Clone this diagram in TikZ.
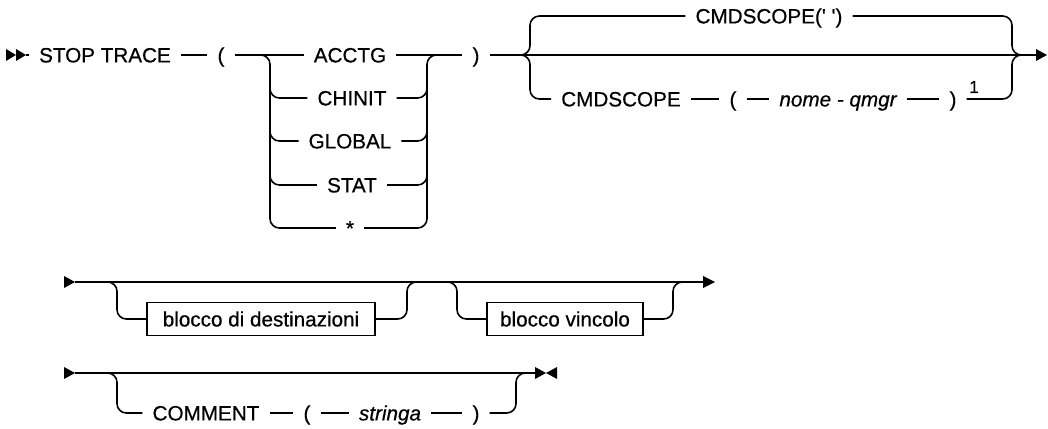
\documentclass[tikz,border=0pt]{standalone}
\usepackage{fontspec}
\setmainfont[FakeBold=0.6]{Liberation Sans}
\begin{document}
\begin{tikzpicture}[x=0.75pt,y=-0.75pt,
  line width=1.2pt,
  tok/.style={font=\fontsize{15.5}{18}\selectfont, inner xsep=7pt, inner ysep=0pt, text height=11.1pt, text depth=0pt},
  var/.style={tok, font=\fontsize{15.5}{18}\selectfont\itshape},
  refbox/.style={draw, line width=1pt, font=\fontsize{15.5}{18}\selectfont, inner ysep=0pt, text height=11.1pt, text depth=0pt, minimum height=24.75pt},
  note/.style={font=\fontsize{13}{15}\selectfont, inner sep=0pt},
  rr/.style={rounded corners=7pt},
  tipfill/.style={fill=black, draw=none}]
\useasboundingbox (0,0) rectangle (1048,428);

% ---------- row 1 ----------
\fill[tipfill] (6,49) -- (16,55) -- (6,61) -- cycle;
\fill[tipfill] (16,49) -- (26,55) -- (16,61) -- cycle;
\coordinate (start1) at (26,55);
\coordinate (end1) at (1036,55);
\fill[tipfill] (1036,49) -- (1047,55) -- (1036,61) -- cycle;

\node[tok] (stop) at (105,55) {STOP TRACE};
\node[tok] (lp) at (221,55) {(};
\node[tok] (acctg) at (350,55) {ACCTG};
\node[tok] (chinit) at (352,98) {CHINIT};
\node[tok] (global) at (350,141) {GLOBAL};
\node[tok] (stat) at (352,185) {STAT};
\node[tok] (star) at (350,228) {*};
\node[tok] (rp) at (476,55) {)};

\draw (start1) -- (stop);
\draw (stop) -- (lp);
\draw (lp) -- (acctg);
\draw (acctg) -- (rp);
\draw (rp) -- (end1);

% left bracket
\draw[rr] (256,55) -- (270,55) -- (270,228) -- (star);
\draw[rr] (270,80) -- (270,98) -- (chinit);
\draw[rr] (270,120) -- (270,141) -- (global);
\draw[rr] (270,165) -- (270,185) -- (stat);
% right bracket
\draw[rr] (star) -- (427,228) -- (427,55) -- (441,55);
\draw[rr] (chinit) -- (427,98) -- (427,80);
\draw[rr] (global) -- (427,141) -- (427,120);
\draw[rr] (stat) -- (427,185) -- (427,165);

% CMDSCOPE choice
\node[tok] (scopeq) at (769,16) {CMDSCOPE(\textquotesingle\ \textquotesingle)};
\node[tok] (scope) at (621,99) {CMDSCOPE};
\node[tok] (lp2) at (733,99) {(};
\node[var] (qmgr) at (838,99) {nome - qmgr};
\node[tok] (rp2) at (953,99) {)};
\node[note] (fn) at (974,87) {1};

\draw[rr] (512,55) -- (530,55) -- (530,16) -- (scopeq);
\draw[rr] (scopeq) -- (1012,16) -- (1012,55) -- (1028,55);
\draw[rr] (512,55) -- (530,55) -- (530,99) -- (scope);
\draw (scope) -- (lp2);
\draw (lp2) -- (qmgr);
\draw (qmgr) -- (rp2);
\draw[rr] (rp2) -- (1012,99) -- (1012,55) -- (1028,55);

% ---------- row 2 ----------
\fill[tipfill] (64,276) -- (75,282) -- (64,288) -- cycle;
\coordinate (start2) at (75,282);
\coordinate (end2) at (703,282);
\fill[tipfill] (703,276) -- (715,282) -- (703,288) -- cycle;
\draw (start2) -- (end2);

\node[refbox, minimum width=171pt] (dest) at (261,319) {blocco di destinazioni};
\node[refbox, minimum width=117pt] (vinc) at (565,319) {blocco vincolo};

\draw[rr] (103,282) -- (117,282) -- (117,319) -- (dest);
\draw[rr] (dest) -- (407,319) -- (407,282) -- (421,282);
\draw[rr] (443,282) -- (457,282) -- (457,319) -- (vinc);
\draw[rr] (vinc) -- (673,319) -- (673,282) -- (687,282);

% ---------- row 3 ----------
\fill[tipfill] (64,367) -- (75,373) -- (64,379) -- cycle;
\coordinate (start3) at (75,373);
\coordinate (end3) at (535,373);
\fill[tipfill] (535,367) -- (546,373) -- (535,379) -- cycle;
\fill[tipfill] (557,367) -- (546,373) -- (557,379) -- cycle;
\draw (start3) -- (end3);

\node[tok] (comment) at (206,413) {COMMENT};
\node[tok] (lp3) at (307,413) {(};
\node[var] (stringa) at (390,413) {stringa};
\node[tok] (rp3) at (476,413) {)};

\draw[rr] (103,373) -- (117,373) -- (117,413) -- (comment);
\draw (comment) -- (lp3);
\draw (lp3) -- (stringa);
\draw (stringa) -- (rp3);
\draw[rr] (rp3) -- (516,413) -- (516,373) -- (530,373);
\end{tikzpicture}
\end{document}
